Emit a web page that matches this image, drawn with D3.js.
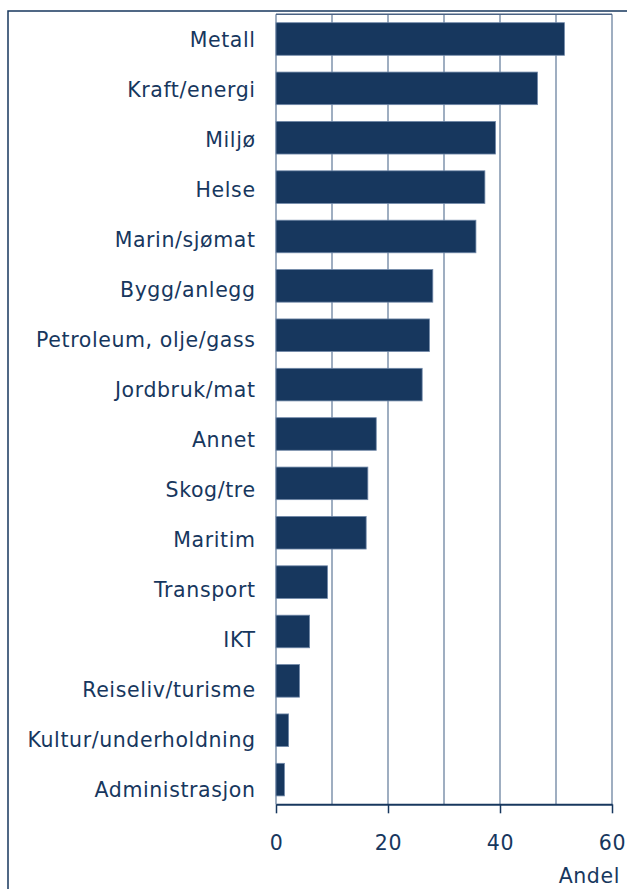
<!DOCTYPE html>
<html lang="no">
<head>
  <meta charset="UTF-8">
  <title>Andel</title>
  <script src="https://cdn.jsdelivr.net/npm/d3@7/dist/d3.min.js"></script>
  <style>
    body { margin: 0; background: #fff; }
    svg text { font-family: "DejaVu Sans", Verdana, sans-serif; fill: #17375e; }
  </style>
</head>
<body>
<svg width="627" height="889"></svg>
<script>
  // kategorier og verdier (lest av figuren)
  const categories = ['Metall', 'Kraft/energi', 'Miljø', 'Helse', 'Marin/sjømat', 'Bygg/anlegg',
    'Petroleum, olje/gass', 'Jordbruk/mat', 'Annet', 'Skog/tre', 'Maritim', 'Transport', 'IKT',
    'Reiseliv/turisme', 'Kultur/underholdning', 'Administrasjon'];
  const values = [51.5, 46.7, 39.2, 37.3, 35.7, 28.0, 27.4, 26.1, 17.9, 16.4, 16.1, 9.2, 6.0, 4.2, 2.25, 1.5];
  const gridTicks = [0, 10, 20, 30, 40, 50, 60];
  const labelTicks = [0, 20, 40, 60];
  const axisTitle = 'Andel';

  const navy = '#17375e';
  const gridColor = '#7f93ad';

  const svg = d3.select('svg');
  const plot = { left: 276, right: 612, top: 14.3, bottom: 804.3 };

  // ramme rundt hele figuren
  svg.append('rect')
    .attr('x', 8).attr('y', 11)
    .attr('width', 700).attr('height', 1000)
    .attr('fill', 'none')
    .attr('stroke', navy)
    .attr('stroke-width', 1.5);

  const x = d3.scaleLinear().domain([0, 60]).range([plot.left, plot.right]);
  const y = d3.scaleBand()
    .domain(categories)
    .range([plot.top, plot.bottom])
    .paddingInner(0.34)
    .paddingOuter(0.17);
  // etikettene står litt tettere enn stolpene i originalen
  const yLabel = d3.scalePoint()
    .domain(categories)
    .range([40, 790]);

  // rutenett
  svg.append('g').selectAll('line')
    .data(gridTicks)
    .join('line')
    .attr('x1', d => x(d)).attr('x2', d => x(d))
    .attr('y1', plot.top).attr('y2', plot.bottom)
    .attr('stroke', gridColor)
    .attr('stroke-width', 1.5);

  svg.append('line')
    .attr('x1', plot.left).attr('x2', plot.right)
    .attr('y1', plot.top).attr('y2', plot.top)
    .attr('stroke', '#4a6283')
    .attr('stroke-width', 1.5);

  // stolper
  svg.append('g').selectAll('rect')
    .data(values)
    .join('rect')
    .attr('x', x(0))
    .attr('y', (d, i) => y(categories[i]))
    .attr('width', d => x(d) - x(0))
    .attr('height', y.bandwidth())
    .attr('fill', navy)
    .attr('stroke', '#7088a8')
    .attr('stroke-width', 0.8);

  // kategorietiketter
  svg.append('g').selectAll('text')
    .data(categories)
    .join('text')
    .attr('x', plot.left - 21 + 0.6)
    .attr('y', d => yLabel(d))
    .attr('dy', '0.36em')
    .attr('text-anchor', 'end')
    .style('font-size', '20.5px')
    .style('letter-spacing', '0.6px')
    .text(d => d);

  // x-akse
  const xAxis = d3.axisBottom(x)
    .tickValues(labelTicks)
    .tickFormat(d3.format('d'))
    .tickSize(9)
    .tickPadding(22)
    .tickSizeOuter(0);

  const gX = svg.append('g')
    .attr('transform', `translate(0,${plot.bottom})`)
    .call(xAxis);
  gX.select('.domain').attr('stroke', navy).attr('stroke-width', 2);
  gX.selectAll('.tick line').attr('stroke', navy).attr('stroke-width', 1.5);
  gX.selectAll('.tick text')
    .attr('fill', navy)
    .style('font-family', '"DejaVu Sans", Verdana, sans-serif')
    .style('font-size', '20.5px')
    .style('letter-spacing', '0.6px');

  svg.append('text')
    .attr('x', 620)
    .attr('y', 883)
    .attr('text-anchor', 'end')
    .style('font-size', '20.5px')
    .style('letter-spacing', '0.6px')
    .text(axisTitle);
</script>
</body>
</html>
